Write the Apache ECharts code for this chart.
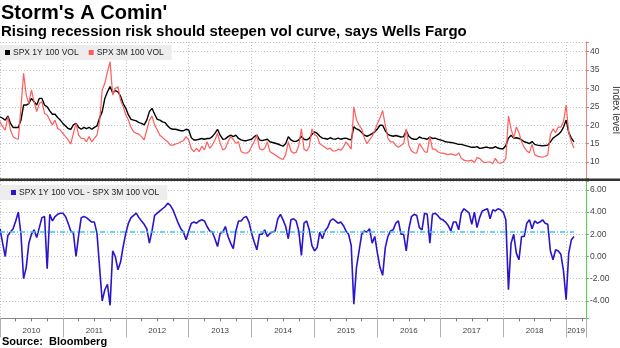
<!DOCTYPE html>
<html>
<head>
<meta charset="utf-8">
<script src="https://cdn.jsdelivr.net/npm/echarts@6/dist/echarts.min.js"></script>
<style>
html,body{margin:0;padding:0;background:#fff;}
#chart{width:620px;height:348px;}
</style>
</head>
<body>
<div id="chart"></div>
<script>
// Half-monthly observation dates (1st and 16th of each month), Jan 2010 - Feb 2019
const dates = [];
for (let y = 2010; y <= 2019; y++) {
  for (let m = 1; m <= 12; m++) {
    for (const d of [1, 16]) {
      const s = y + '-' + String(m).padStart(2, '0') + '-' + String(d).padStart(2, '0');
      if (s <= '2019-02-16') dates.push(s);
    }
  }
}

const yearLabels = ['2010','2011','2012','2013','2014','2015','2016','2017','2018','2019'];

const vol1Y = [
  22.3,21.9,21.4,22.5,20.5,19.4,19.4,19.4,21.4,25.5,
  25.5,25.9,27.3,26.4,25.5,27.3,27.3,25.5,25.0,23.9,
  23.0,23.0,22.1,21.4,20.5,19.8,19.1,18.9,20.1,20.5,
  19.4,18.9,19.4,19.1,19.4,18.9,19.4,19.8,22.0,23.7,
  27.3,29.1,30.5,28.8,29.4,29.1,27.9,25.9,24.6,22.8,
  21.6,21.4,21.2,20.7,20.5,20.1,21.4,23.7,24.6,23.0,
  21.6,21.4,20.9,20.7,19.8,19.1,18.9,18.9,18.7,18.5,
  18.5,18.9,18.7,16.6,16.0,16.0,16.2,16.4,16.2,16.4,
  16.4,16.9,17.8,18.9,17.3,16.2,16.3,16.9,17.3,16.9,
  17.3,16.4,16.0,15.8,15.8,16.0,16.2,16.9,17.3,16.0,
  15.8,16.0,16.2,15.5,15.3,15.1,14.9,14.6,14.3,15.0,
  16.9,16.0,15.6,15.6,16.0,17.0,16.2,16.0,16.4,17.5,
  18.2,17.8,17.0,16.5,16.4,16.2,16.6,16.3,16.2,16.5,
  16.2,16.4,16.5,16.2,16.0,19.6,19.0,18.7,18.0,17.3,
  17.0,17.3,17.7,18.2,19.0,20.0,20.0,18.5,17.5,17.2,
  17.0,17.2,17.0,16.8,16.9,18.5,17.0,16.4,16.2,16.2,
  16.8,16.5,16.4,16.2,16.8,16.4,16.5,16.2,16.0,15.8,
  15.5,15.4,15.3,15.2,15.0,14.8,14.8,14.6,14.4,14.2,
  14.0,14.0,14.2,13.7,13.8,14.0,14.0,13.8,13.8,14.2,
  13.8,13.6,13.6,14.5,16.5,17.3,16.5,16.6,16.4,16.0,
  15.5,15.3,15.0,15.6,14.8,14.6,14.5,14.4,14.5,14.6,
  15.5,16.5,17.0,17.5,18.2,19.5,21.4,18.0,16.5,15.5
];

const vol3M = [
  21.0,19.6,18.7,22.3,18.7,16.9,16.4,16.2,25.0,34.1,
  28.2,25.9,29.6,26.4,23.7,25.9,26.4,23.2,22.8,21.4,
  20.1,21.4,19.1,18.7,17.8,16.9,16.0,14.9,17.8,20.5,
  17.3,16.4,16.4,15.5,16.9,15.5,16.4,17.3,21.0,29.6,
  31.4,34.5,37.3,28.2,30.0,30.5,26.8,25.0,22.8,21.4,
  19.4,18.2,17.8,17.6,16.9,16.0,18.7,21.4,22.5,20.1,
  18.7,17.3,16.7,16.0,15.5,14.6,14.6,14.9,15.1,15.5,
  15.8,16.9,16.0,13.6,12.8,13.7,12.8,14.3,13.3,15.5,
  13.7,14.6,16.0,17.8,15.1,13.3,13.7,15.5,16.9,16.2,
  15.1,15.5,12.8,12.5,12.4,12.8,14.2,15.5,17.3,13.7,
  13.3,13.7,15.5,12.8,12.4,11.9,11.4,11.0,10.7,12.0,
  15.5,13.0,12.4,12.6,14.5,19.0,13.5,13.0,14.2,19.0,
  17.5,17.0,15.0,14.5,14.0,13.5,13.8,13.0,13.0,13.5,
  13.2,14.0,15.5,14.5,13.5,25.0,21.5,20.0,19.0,16.5,
  15.0,16.0,17.0,18.5,20.5,22.0,24.0,20.0,16.5,15.5,
  15.5,14.5,14.0,14.5,15.0,19.0,14.5,13.0,12.5,12.4,
  15.0,14.0,12.8,12.6,17.0,13.5,13.5,12.8,12.5,12.4,
  12.2,12.0,12.2,12.0,11.8,12.5,11.0,10.5,10.3,10.3,
  10.5,9.8,11.2,11.0,10.2,9.8,10.0,10.0,9.6,11.0,
  9.8,9.7,10.0,11.0,22.5,19.0,16.5,19.5,18.0,15.5,
  14.0,13.0,12.5,14.8,12.0,11.6,11.4,11.3,11.5,12.0,
  17.5,19.0,18.0,19.5,19.5,21.0,25.5,18.0,15.5,13.8
];

const spread = [
  2.5,1.2,0.0,1.9,2.2,2.5,3.2,4.0,2.0,-2.0,
  -1.0,1.2,2.0,2.4,1.7,2.6,3.5,3.6,-1.1,3.8,
  3.2,3.6,3.8,3.9,3.9,3.6,3.0,2.3,2.1,0.0,
  1.9,3.5,3.6,3.5,3.3,3.1,3.1,2.1,-1.0,-4.0,
  -3.0,-2.5,-4.4,0.5,0.0,-1.2,-0.5,0.9,2.1,3.0,
  3.5,3.7,3.9,3.5,3.2,2.9,2.5,1.2,2.3,3.7,
  3.9,4.1,4.3,4.5,4.8,4.6,4.2,3.6,3.0,2.5,
  2.2,1.5,2.3,3.0,3.1,3.0,3.2,3.3,3.2,2.7,
  2.3,2.2,1.6,0.9,2.1,2.2,2.7,1.8,1.2,0.7,
  2.3,3.2,3.2,3.5,3.6,3.1,2.1,1.3,0.6,2.0,
  2.0,2.4,1.8,2.1,2.2,2.3,3.4,3.8,3.3,2.7,
  1.6,3.3,3.4,3.2,2.3,0.1,3.0,3.2,2.4,1.0,
  0.5,0.8,2.2,1.6,2.3,2.6,3.2,3.4,3.2,3.0,
  3.1,2.8,2.3,2.0,1.0,-4.3,-1.0,0.5,2.0,2.3,
  2.2,2.5,1.2,1.8,0.3,-1.0,-1.7,0.8,1.8,2.3,
  2.4,3.0,3.2,2.0,2.0,0.5,2.5,3.6,3.8,3.7,
  2.6,2.4,3.9,3.8,1.2,3.8,3.9,3.7,3.4,3.3,
  3.1,2.8,2.3,3.1,3.1,2.4,3.9,4.3,4.1,3.9,
  2.9,4.0,2.6,3.5,4.1,4.2,4.3,3.4,4.2,4.1,
  4.3,4.2,4.0,3.3,-3.0,1.2,2.0,0.3,-0.3,1.8,
  1.8,3.0,3.3,2.5,3.2,3.0,3.1,3.3,3.0,2.9,
  0.5,-0.3,0.6,0.5,0.2,-1.3,-3.9,0.3,1.5,1.8
];

function decYear(s) {
  const p = s.split('-').map(Number);
  return p[0] + (p[1] - 1) / 12 + (p[2] - 1) / 360;
}
const xs = dates.map(decYear);
const pairs = arr => arr.map((v, i) => [xs[i], v]);
const spreadMean = spread.reduce((a, b) => a + b, 0) / spread.length;

const X_MIN = 2010, X_MAX = 2019.316;
const labelPos = yearLabels.map((y, i) => {
  const yr = Number(y);
  return i < yearLabels.length - 1 ? yr + 0.5 : (yr + X_MAX) / 2;
});

const FONT = 'Liberation Sans, Arial, sans-serif';
const gridDot = { show: true, lineStyle: { color: '#c4c4c4', type: [1, 2], width: 1 } };

const chart = echarts.init(document.getElementById('chart'), null, { renderer: 'canvas' });
chart.setOption({
  animation: false,
  backgroundColor: '#ffffff',
  textStyle: { fontFamily: FONT },
  title: [
    { text: "Storm's A Comin'", left: 1, top: 3, padding: 0,
      textStyle: { fontFamily: FONT, fontSize: 20, fontWeight: 'bold', color: '#000' } },
    { text: 'Rising recession risk should steepen vol curve, says Wells Fargo', left: 1, top: 24, padding: 0,
      textStyle: { fontFamily: FONT, fontSize: 15, fontWeight: 'bold', color: '#000' } },
    { text: 'Source:  Bloomberg', left: 2, top: 336, padding: 0,
      textStyle: { fontFamily: FONT, fontSize: 11, fontWeight: 'bold', color: '#000' } }
  ],
  legend: [
    { data: ['SPX 1Y 100 VOL', 'SPX 3M 100 VOL'], left: 0, top: 45, orient: 'horizontal',
      icon: 'rect', itemWidth: 5, itemHeight: 5, itemGap: 10,
      padding: [3, 8, 3, 5], backgroundColor: 'rgba(236,236,236,0.95)',
      textStyle: { fontFamily: FONT, fontSize: 8.5, color: '#222', padding: [0, 0, 0, -2] } },
    { data: ['SPX 1Y 100 VOL - SPX 3M 100 VOL'], left: 0, top: 185, orient: 'horizontal',
      icon: 'rect', itemWidth: 5, itemHeight: 5,
      padding: [3, 8, 3, 11], backgroundColor: 'rgba(236,236,236,0.95)',
      textStyle: { fontFamily: FONT, fontSize: 8.5, color: '#222', padding: [0, 0, 0, -2] } }
  ],
  grid: [
    { left: 0, top: 42, width: 586, height: 136, outerBoundsMode: 'none', containLabel: false },
    { left: 0, top: 181, width: 586, height: 137.3, outerBoundsMode: 'none', containLabel: false }
  ],
  xAxis: [
    { type: 'value', gridIndex: 0, min: X_MIN, max: X_MAX, interval: 1,
      axisLine: { show: false }, axisTick: { show: false }, axisLabel: { show: false },
      splitLine: gridDot },
    { type: 'value', gridIndex: 1, min: X_MIN, max: X_MAX, interval: 1,
      axisLine: { show: true, onZero: false, lineStyle: { color: '#8a8a8a', width: 1 } },
      axisTick: { show: true, length: 19, lineStyle: { color: '#b0b0b0' } },
      minorTick: { show: true, splitNumber: 4, length: 3, lineStyle: { color: '#777' } },
      axisLabel: { show: true, customValues: labelPos, margin: 8, fontSize: 8, color: '#444',
        fontFamily: FONT, formatter: v => String(Math.floor(v + 1e-6)) },
      splitLine: gridDot }
  ],
  yAxis: [
    { type: 'value', gridIndex: 0, position: 'right', min: 5.65, max: 42.64, splitNumber: 7,
      axisLine: { show: true, lineStyle: { color: '#ff7a7a', width: 1 } },
      axisTick: { show: true, length: 3, lineStyle: { color: '#999' } },
      axisLabel: { fontSize: 8.5, color: '#444', margin: 4, fontFamily: FONT,
        formatter: v => (Math.abs(v % 5) < 1e-6 && v >= 10) ? String(v) : '' },
      splitLine: gridDot,
      name: 'Index level', nameLocation: 'middle', nameRotate: -90, nameGap: 25,
      nameTextStyle: { fontSize: 10, color: '#333', fontFamily: FONT } },
    { type: 'value', gridIndex: 1, position: 'right', min: -5.57, max: 6.8, splitNumber: 6,
      axisLine: { show: true, lineStyle: { color: '#44dd44', width: 1 } },
      axisTick: { show: true, length: 3, lineStyle: { color: '#999' } },
      axisLabel: { fontSize: 8.5, color: '#444', margin: 4, fontFamily: FONT,
        formatter: v => (Math.abs(Math.round(v) - v) < 1e-6 && Math.round(v) % 2 === 0) ? v.toFixed(2) : '' },
      splitLine: gridDot,
      name: 'Spread', nameLocation: 'middle', nameRotate: -90, nameGap: 25,
      nameTextStyle: { fontSize: 10, color: '#333', fontFamily: FONT } }
  ],
  series: [
    { name: 'SPX 1Y 100 VOL', type: 'line', xAxisIndex: 0, yAxisIndex: 0, data: pairs(vol1Y),
      showSymbol: false, symbol: 'none', lineStyle: { color: '#000', width: 1.4 }, itemStyle: { color: '#000' } },
    { name: 'SPX 3M 100 VOL', type: 'line', xAxisIndex: 0, yAxisIndex: 0, data: pairs(vol3M),
      showSymbol: false, symbol: 'none', lineStyle: { color: '#ff5c5c', width: 1.2 }, itemStyle: { color: '#ff5c5c' } },
    { name: 'SPX 1Y 100 VOL - SPX 3M 100 VOL', type: 'line', xAxisIndex: 1, yAxisIndex: 1, data: pairs(spread),
      showSymbol: false, symbol: 'none', lineStyle: { color: '#2a14cc', width: 1.6 }, itemStyle: { color: '#2a14cc' },
      markLine: { silent: true, symbol: 'none', label: { show: false },
        lineStyle: { color: '#3cc4f0', type: [5, 2, 1, 2], width: 1.5 },
        data: [[{ coord: [xs[0], spreadMean] }, { coord: [xs[xs.length - 1], spreadMean] }]] } }
  ],
  graphic: [
    { type: 'rect', shape: { x: 0, y: 178.5, width: 620, height: 2.5 }, style: { fill: '#333' }, z: 100 }
  ]
});
</script>
</body>
</html>
